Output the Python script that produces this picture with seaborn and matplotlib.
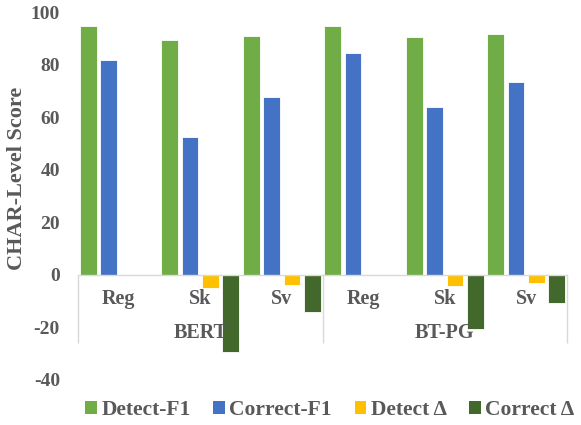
import matplotlib
matplotlib.use("Agg")
import matplotlib.pyplot as plt
from matplotlib.patches import Patch
import seaborn as sns
import pandas as pd
import numpy as np

models = ["BERT", "BT-PG"]
settings = ["Reg", "Sk", "Sv"]
series = ["Detect-F1", "Correct-F1", "Detect Δ", "Correct Δ"]
detect_f1 = [94.5, 89.4, 90.7, 94.6, 90.5, 91.5]
correct_f1 = [81.6, 52.4, 67.6, 84.3, 63.8, 73.5]
detect_delta = [0.0, -5.1, -3.8, 0.0, -4.1, -3.1]
correct_delta = [0.0, -29.2, -14.0, 0.0, -20.5, -10.8]
colors = ["#70AD47", "#4472C4", "#FFC000", "#43682B"]
yticks = [-40, -20, 0, 20, 40, 60, 80, 100]

cats = [f"{m}|{s}" for m in models for s in settings]
rows = []
for name, vals in zip(series, [detect_f1, correct_f1, detect_delta, correct_delta]):
    for c, v in zip(cats, vals):
        rows.append({"cat": c, "series": name, "value": v})
df = pd.DataFrame(rows)

sns.set_theme(style="white")
plt.rcParams["font.family"] = ["Liberation Serif", "DejaVu Serif"]
plt.rcParams["font.weight"] = "bold"
txt = "#595959"

fig = plt.figure(figsize=(5.81, 4.25), dpi=100)
ax = fig.add_axes([78/581, 1-380/425, (567-78)/581, (380-12)/425])

sns.barplot(data=df, x="cat", y="value", hue="series", order=cats, hue_order=series,
            palette=colors, width=1.0, gap=0.18, ax=ax, edgecolor="white", linewidth=0.6,
            saturation=1, legend=False)
for p in ax.patches:
    if abs(p.get_height()) < 1e-9:
        p.set_visible(False)

ax.set_ylim(-40, 100)
ax.set_xlim(-0.5, 5.5)
ax.set_yticks(yticks)
ax.set_yticklabels([str(t) for t in yticks])
ax.set_xticks(range(len(cats)))
ax.set_xticklabels([s for m in models for s in settings])
ax.tick_params(axis="both", length=0, labelcolor=txt)
ax.tick_params(axis="x", pad=10, labelsize=14.5)
ax.tick_params(axis="y", pad=13, labelsize=14)
for lab in ax.get_xticklabels() + ax.get_yticklabels():
    lab.set_fontweight("bold")
for s in ["left", "right", "top"]:
    ax.spines[s].set_visible(False)
ax.spines["bottom"].set_position(("data", 0))
ax.spines["bottom"].set_color("#D9D9D9")
ax.spines["bottom"].set_linewidth(1.0)
ax.set_xlabel("")
ax.set_ylabel("")
fig.text(17/581, 1-178/425, "CHAR-Level Score", rotation=90, ha="center", va="center",
         fontsize=16, fontweight="bold", color=txt)

ax.vlines([-0.5, 2.5, 5.5], -26, 0, colors="#D9D9D9", linewidth=1.0, clip_on=False)
for i, m in enumerate(models):
    ax.text(1 + 3*i, -22.2, m, ha="center", va="center", fontsize=14.5, fontweight="bold", color=txt)

handles = [Patch(facecolor=c, edgecolor="none", label=s) for c, s in zip(colors, series)]
fig.legend(handles=handles, loc="center", bbox_to_anchor=(330/581, 1-410/425), ncol=4, frameon=False,
           handlelength=0.55, handleheight=0.55, handletextpad=0.2, columnspacing=1.05,
           borderpad=0.2, prop={"size": 15.5, "weight": "bold"}, labelcolor=txt)

fig.savefig("out.png", dpi=100)
